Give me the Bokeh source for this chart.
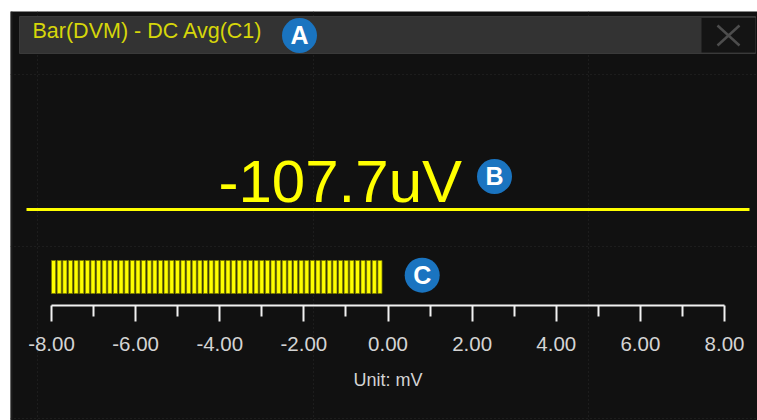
import numpy as np
from bokeh.plotting import figure
from bokeh.models import Range1d, LinearAxis, FixedTicker, PrintfTickFormatter, ColumnDataSource
from bokeh.core.properties import value
from bokeh.embed import file_html
from bokeh.resources import INLINE

# ---- data ----
title_text = "Bar(DVM) - DC Avg(C1)"
measured_uV = -107.7                     # DC average reading
scale_min_mV = -8.0
scale_max_mV = 8.0
major_ticks = [-8, -6, -4, -2, 0, 2, 4, 6, 8]
minor_ticks = [-7, -5, -3, -1, 1, 3, 5, 7]
unit_label = "Unit: mV"
segments_full_scale = 120                # bar resolution across the scale
markers = ["A", "B", "C"]

measured_mV = measured_uV / 1000.0
seg_nominal = (scale_max_mV - scale_min_mV) / segments_full_scale
n_seg = int(round((measured_mV - scale_min_mV) / seg_nominal))
seg = (measured_mV - scale_min_mV) / n_seg
seg_left = scale_min_mV + np.arange(n_seg) * seg
seg_right = seg_left + seg * 0.74

FONT = "Liberation Sans"
W, H = 757, 420
BL, BT = 10, 11
FW, FH = W - BL, H - BT   # frame size

p = figure(width=W, height=H, output_backend="svg", toolbar_location=None,
           x_range=Range1d(-8.975, -8.975 + FW / 42.0625), y_range=Range1d(FH, 0),
           x_axis_type=None, y_axis_type=None,
           min_border_left=BL, min_border_top=BT, min_border_right=0, min_border_bottom=0,
           background_fill_color="#111111", border_fill_color="white",
           outline_line_color=None)
p.extra_x_ranges = {"px": Range1d(0, FW)}
p.grid.visible = False

# reference screen coords -> frame coords
def sx(v): return v - BL
def sy(v): return v - BT
BASE = 0.4  # baseline correction (em) for text glyphs

# faint dotted grid
for gx in [37, 313, 588]:
    p.segment(x0=[sx(gx)], y0=[0], x1=[sx(gx)], y1=[FH], x_range_name="px",
              line_color="#2a2a2a", line_width=1, line_dash="1 3")
for gy in [74, 246, 418]:
    p.segment(x0=[0], y0=[sy(gy)], x1=[FW], y1=[sy(gy)], x_range_name="px",
              line_color="#2a2a2a", line_width=1, line_dash="1 3")
# left panel edge
p.segment(x0=[1], y0=[0], x1=[1], y1=[FH], x_range_name="px", line_color="#1e1e1e", line_width=2)

# title bar
p.quad(left=[sx(19)], right=[sx(755)], top=[sy(16)], bottom=[sy(53)], x_range_name="px",
       fill_color="#333333", line_color="#3a3a3a", line_width=1)
# close box
p.quad(left=[sx(701)], right=[sx(755)], top=[sy(17.5)], bottom=[sy(52)], x_range_name="px",
       fill_color="#141414", line_color=None)
p.segment(x0=[sx(717), sx(717)], y0=[sy(25), sy(45)], x1=[sx(739), sx(739)], y1=[sy(45), sy(25)],
          x_range_name="px", line_color="#4d4d4d", line_width=2.5)

p.text(x=[sx(32)], y=[sy(39.5 - BASE * 21.5)], text=[title_text], x_range_name="px",
       text_font=value(FONT), text_font_size="21.5px", text_color="#d6d60a",
       text_align="left", text_baseline="alphabetic")

# value readout
p.text(x=[sx(218)], y=[sy(205 - BASE * 60)], text=[f"{measured_uV:.1f}uV"], x_range_name="px",
       text_font=value(FONT), text_font_size="60px", text_color="#ffff00",
       text_align="left", text_baseline="alphabetic")

# yellow separator line
p.segment(x0=[sx(26)], y0=[sy(209)], x1=[sx(749)], y1=[sy(209)], x_range_name="px",
          line_color="#ffff00", line_width=3)

# bar segments
src = ColumnDataSource(dict(left=seg_left, right=seg_right))
p.quad(left="left", right="right", top=sy(260), bottom=sy(293), source=src,
       fill_color="#ffff00", line_color="#7a7a00", line_width=0.8)

# axis
ax = LinearAxis(fixed_location=sy(305), bounds=(scale_min_mV, scale_max_mV),
                ticker=FixedTicker(ticks=major_ticks, minor_ticks=minor_ticks),
                formatter=PrintfTickFormatter(format="%.2f"),
                axis_label=unit_label)
ax.axis_line_color = "#f2f2f2"
ax.axis_line_width = 2
ax.major_tick_line_color = "#f2f2f2"
ax.major_tick_line_width = 2
ax.major_tick_in = 0
ax.major_tick_out = 16
ax.minor_tick_line_color = "#f2f2f2"
ax.minor_tick_line_width = 2
ax.minor_tick_in = 0
ax.minor_tick_out = 11
ax.major_label_text_font = FONT
ax.major_label_text_font_size = "20.5px"
ax.major_label_text_color = "#d4d4d4"
ax.major_label_standoff = 15
ax.axis_label_text_font = FONT
ax.axis_label_text_font_size = "18px"
ax.axis_label_text_font_style = "normal"
ax.axis_label_text_color = "#d4d4d4"
ax.axis_label_standoff = 16
p.add_layout(ax, "below")

# circled markers
mx = [299, 494, 421.7]
my = [35, 176, 274.7]
p.scatter(x=[sx(v) for v in mx], y=[sy(v) for v in my], x_range_name="px",
          marker="circle", size=35, fill_color="#1a74c0", line_color=None)
p.text(x=[sx(v) for v in mx], y=[sy(v + 9.5 - BASE * 25) for v in my], text=markers, x_range_name="px",
       text_font=value(FONT), text_font_size="25px", text_font_style="bold",
       text_color="white", text_align="center", text_baseline="alphabetic")

open("out.html", "w").write(file_html(p, INLINE))
